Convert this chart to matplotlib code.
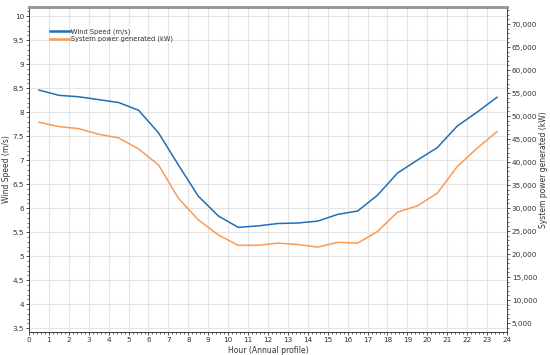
import numpy as np
import matplotlib
matplotlib.use("Agg")
import matplotlib.pyplot as plt
from matplotlib.ticker import AutoMinorLocator, MultipleLocator, FuncFormatter

plt.rcParams["font.family"] = "DejaVu Sans"

# hourly annual profile (half-hour centres)
hours = [0.5, 1.5, 2.5, 3.5, 4.5, 5.5, 6.5, 7.5, 8.5, 9.5, 10.5, 11.5,
         12.5, 13.5, 14.5, 15.5, 16.5, 17.5, 18.5, 19.5, 20.5, 21.5, 22.5, 23.5]
wind_speed = [8.46, 8.35, 8.32, 8.26, 8.20, 8.04, 7.57, 6.90, 6.25, 5.84, 5.60, 5.63,
              5.68, 5.69, 5.73, 5.87, 5.94, 6.27, 6.73, 7.00, 7.26, 7.71, 8.00, 8.31]
power_kw = [48650, 47700, 47260, 46040, 45240, 42850, 39380, 32140, 27430, 24170, 21890, 21900,
            22370, 22060, 21500, 22540, 22370, 24890, 29100, 30470, 33230, 39000, 43000, 46600]

blue = "#1f6fb8"
orange = "#fb9a52"
txt = "#333333"

fig = plt.figure(figsize=(5.5, 3.55), dpi=100)
ax = fig.add_axes([0.0527, 0.0648, 0.8691, 0.9155])
ax2 = ax.twinx()

l1, = ax.plot(hours, wind_speed, color=blue, lw=1.1, label="Wind Speed (m/s)")
l2, = ax2.plot(hours, power_kw, color=orange, lw=1.1, label="System power generated (kW)")

ax.set_xlim(0, 24)
ax.set_ylim(3.42, 10.19)
ax2.set_ylim(3050, 73700)

ax.xaxis.set_major_locator(MultipleLocator(1))
ax.xaxis.set_minor_locator(AutoMinorLocator(5))
ax.yaxis.set_major_locator(MultipleLocator(0.5))
ax.yaxis.set_minor_locator(AutoMinorLocator(5))
ax.yaxis.set_major_formatter(FuncFormatter(lambda v, p: f"{v:g}"))
ax2.yaxis.set_major_locator(MultipleLocator(5000))
ax2.yaxis.set_minor_locator(AutoMinorLocator(5))
ax2.yaxis.set_major_formatter(FuncFormatter(lambda v, p: f"{int(v):,}"))

ax.grid(True, which="major", color="#e4e4e4", lw=0.8)
ax.set_axisbelow(True)

for a in (ax, ax2):
    a.tick_params(which="major", length=2, width=0.6, labelsize=5.2, colors=txt, pad=1.5)
    a.tick_params(which="minor", length=1.2, width=0.5, colors=txt)
    for s in ("left", "right", "bottom"):
        a.spines[s].set_color("#444444")
        a.spines[s].set_linewidth(0.7)
    a.spines["top"].set_color("#999999")
    a.spines["top"].set_linewidth(2)

ax.set_xlabel("Hour (Annual profile)", fontsize=5.5, color=txt)
ax.set_ylabel("Wind Speed (m/s)", fontsize=5.5, color=txt)
ax2.set_ylabel("System power generated (kW)", fontsize=5.5, color=txt)
ax.xaxis.set_label_coords(0.5, -0.042)
ax.yaxis.set_label_coords(-0.038, 0.5)
ax2.yaxis.set_label_coords(1.066, 0.5)

leg = ax.legend(handles=[l1, l2], loc="upper left", bbox_to_anchor=(0.044, 0.935),
                frameon=False, fontsize=4.8, handlelength=3.0, handletextpad=0.1,
                labelspacing=0.2, borderaxespad=0, borderpad=0)
for h in leg.get_lines():
    h.set_linewidth(1.8)
for t in leg.get_texts():
    t.set_color(txt)

fig.savefig("out.png", dpi=100)
